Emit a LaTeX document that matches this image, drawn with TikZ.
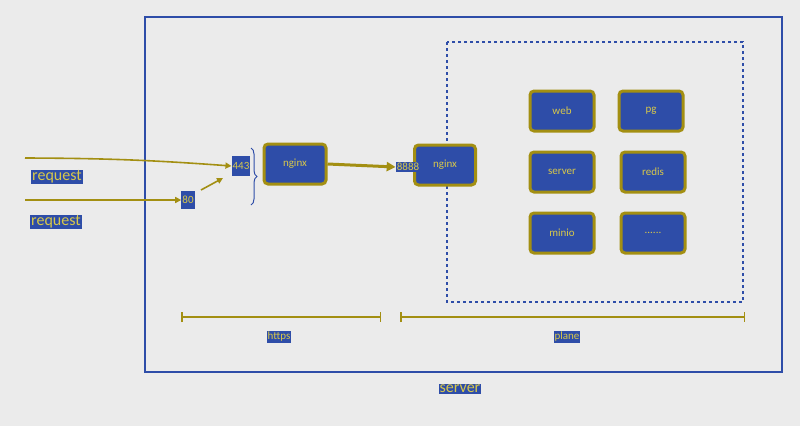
\documentclass[tikz,border=0pt]{standalone}
\usepackage{fontspec}
\setmainfont{Carlito}
\usetikzlibrary{arrows.meta,decorations.pathreplacing}
\definecolor{bg}{HTML}{EBEBEB}
\definecolor{bl}{HTML}{2E4DA8}
\definecolor{gd}{HTML}{A38F12}
\definecolor{tx}{HTML}{D8C84A}
\tikzset{x=1pt,y=-1pt,
 svc/.style={draw=gd,line width=3pt,fill=bl,rounded corners=4pt,text=tx,font=\fontsize{11}{12}\selectfont,minimum width=64pt,minimum height=40pt},
 lbl/.style={fill=bl,text=tx,inner sep=1pt,font=\fontsize{11}{12}\selectfont},
 big/.style={fill=bl,text=tx,inner sep=1pt,font=\fontsize{16}{17}\selectfont},
 arr/.style={draw=gd,line width=1.6pt,-{Triangle[length=6pt,width=6pt]}},
 dim/.style={draw=gd,line width=1.5pt,{Bar[width=10pt]}-{Bar[width=10pt]}}}
\begin{document}
\begin{tikzpicture}
\fill[bg] (0,0) rectangle (800,426);
\useasboundingbox (0,0) rectangle (800,426);
\draw[bl,line width=1.2pt] (145,17) rectangle (782,372);
\draw[bl,line width=1.3pt,dashed] (447,42) rectangle (743,302);
\node[svc] (web) at (562,111) {web};
\node[svc] (pg) at (651,111) {pg};
\node[svc] (srv) at (562,172) {server};
\node[svc] (redis) at (653,172) {redis};
\node[svc] (minio) at (562,233) {minio};
\node[svc] (dots) at (653,233) {......};
\node[svc,minimum width=62pt] (ng1) at (295,164) {nginx};
\node[svc,minimum width=61pt] (ng2) at (445,165) {nginx};
\node[lbl,minimum height=20pt] (p443) at (241,166) {443};
\node[lbl,minimum height=18pt] (p80) at (188,200) {80};
\node[lbl] (p8888) at (408,167) {8888};
\node[big] (r1) at (57,177) {request};
\node[big] (r2) at (56,222) {request};
\node[big] (sv) at (460,389) {server};
\coordinate (s1) at (25,158);
\coordinate (s2) at (25,200);
\coordinate (a80) at (201,190);
\draw[bl,line width=1pt,decorate,decoration={brace,amplitude=6pt}] (251,148) -- (251,205);
\draw[arr] (s1) to[bend left=2] (p443.west);
\draw[arr] (s2) -- (p80.west);
\draw[arr] (a80) -- (223,178);
\draw[arr,line width=3pt,-{Triangle[length=9pt,width=9pt]}] (ng1.east) -- (p8888.west);
\coordinate (h1) at (181,317); \coordinate (h2) at (381,317);
\coordinate (q1) at (400,317); \coordinate (q2) at (745,317);
\draw[dim] (h1) -- (h2);
\draw[dim] (q1) -- (q2);
\node[lbl] (https) at (279,337) {https};
\node[lbl] (plane) at (567,337) {plane};
\end{tikzpicture}
\end{document}
